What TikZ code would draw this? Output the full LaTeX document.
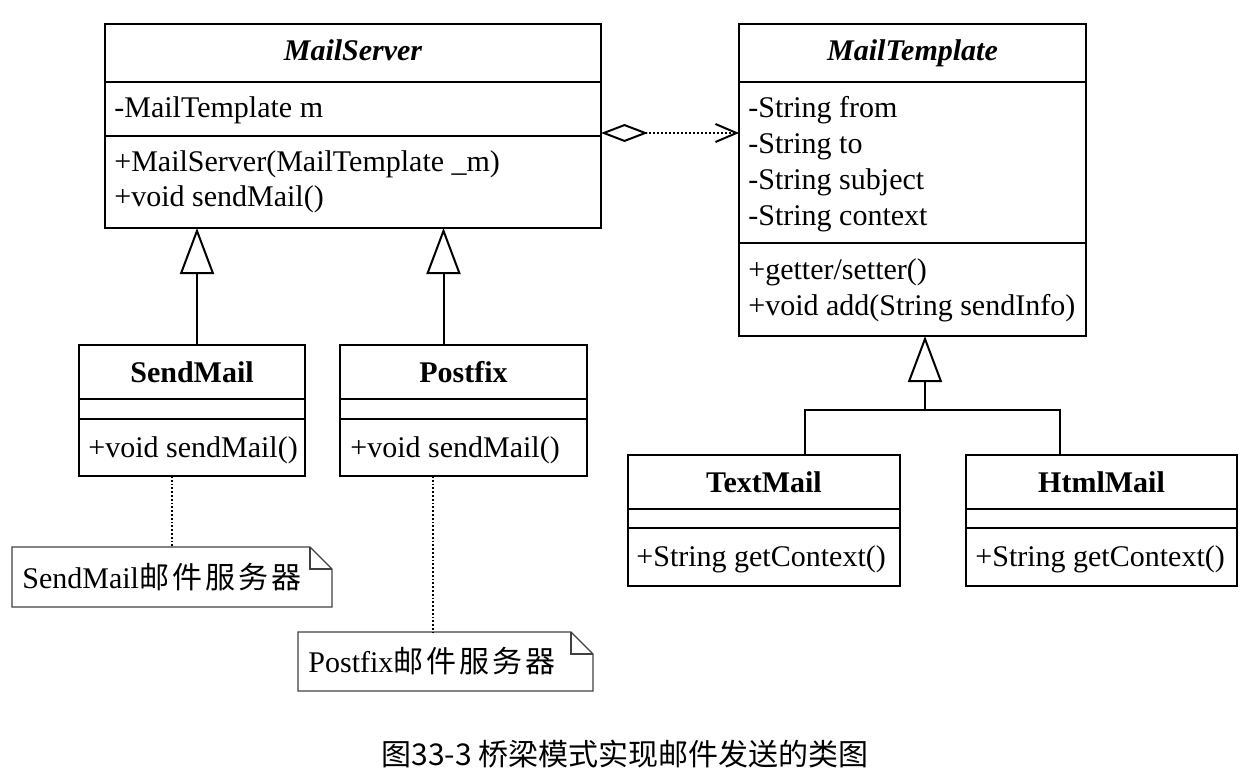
\documentclass[tikz,border=0pt]{standalone}
\usepackage{fontspec}
\setmainfont{Liberation Serif}
\newfontfamily\cjk{Noto Sans CJK SC}
\newfontfamily\cjknote[LetterSpace=10]{Noto Sans CJK SC}
\usetikzlibrary{arrows.meta,calc}
\begin{document}
\begin{tikzpicture}[x=0.5pt,y=-0.5pt,
  box/.style={draw, line width=1.1pt, rectangle, inner sep=0pt, outer sep=0pt},
  ttl/.style={anchor=base, inner sep=0pt, font=\fontsize{15}{18}\selectfont\bfseries},
  ittl/.style={ttl, font=\fontsize{15}{18}\selectfont\bfseries\itshape},
  mem/.style={anchor=base west, inner sep=0pt, font=\fontsize{15}{18}\selectfont},
  sepline/.style={line width=1.1pt},
  conn/.style={line width=1pt},
  gen/.style={conn, -{Triangle[open, length=23pt, width=17pt]}},
  agg/.style={conn, densely dotted, {Diamond[open,length=23.5pt,width=9pt]}-{Straight Barb[length=10.5pt,width=9pt]}},
  dotl/.style={line width=0.9pt, densely dotted},
  noteph/.style={rectangle, inner sep=0pt, outer sep=0pt},
  notel/.style={line width=0.7pt, draw=black!75},
  notetxt/.style={anchor=base west, inner sep=0pt, font=\fontsize{15}{18}\selectfont}
]
\useasboundingbox (0,0) rectangle (1249,776);

% ---------- MailServer ----------
\node[box, minimum width=248pt, minimum height=102pt] (ms) at (353,126) {};
\draw[sepline] ($(ms.north west)+(0,58)$) -- ($(ms.north east)+(0,58)$);
\draw[sepline] ($(ms.north west)+(0,112)$) -- ($(ms.north east)+(0,112)$);
\node[ittl] (mst) at (353,61) {MailServer};
\node[mem] (msa) at (114,117) {-MailTemplate m};
\node[mem] (msm1) at (114,171) {+MailServer(MailTemplate \_m)};
\node[mem] (msm2) at (114,206) {+void sendMail()};

% ---------- MailTemplate ----------
\node[box, minimum width=173.5pt, minimum height=156pt] (mt) at (912.5,180) {};
\draw[sepline] ($(mt.north west)+(0,58)$) -- ($(mt.north east)+(0,58)$);
\draw[sepline] ($(mt.north west)+(0,219)$) -- ($(mt.north east)+(0,219)$);
\node[ittl] (mtt) at (912.5,61) {MailTemplate};
\node[mem] (mta1) at (748,117) {-String from};
\node[mem] (mta2) at (748,153) {-String to};
\node[mem] (mta3) at (748,189) {-String subject};
\node[mem] (mta4) at (748,225) {-String context};
\node[mem] (mtm1) at (748,279) {+getter/setter()};
\node[mem] (mtm2) at (748,315) {+void add(String sendInfo)};

% ---------- SendMail ----------
\node[box, minimum width=113pt, minimum height=65.5pt] (sm) at (192,410.5) {};
\draw[sepline] ($(sm.north west)+(0,54)$) -- ($(sm.north east)+(0,54)$);
\draw[sepline] ($(sm.north west)+(0,74)$) -- ($(sm.north east)+(0,74)$);
\node[ttl] (smt) at (192,382) {SendMail};
\node[mem] (smm) at (88,457) {+void sendMail()};

% ---------- Postfix ----------
\node[box, minimum width=123.5pt, minimum height=65.5pt] (pf) at (463.5,410.5) {};
\draw[sepline] ($(pf.north west)+(0,54)$) -- ($(pf.north east)+(0,54)$);
\draw[sepline] ($(pf.north west)+(0,74)$) -- ($(pf.north east)+(0,74)$);
\node[ttl] (pft) at (463.5,382) {Postfix};
\node[mem] (pfm) at (350,457) {+void sendMail()};

% ---------- TextMail ----------
\node[box, minimum width=136pt, minimum height=65.5pt] (tm) at (764,520.5) {};
\draw[sepline] ($(tm.north west)+(0,54)$) -- ($(tm.north east)+(0,54)$);
\draw[sepline] ($(tm.north west)+(0,73)$) -- ($(tm.north east)+(0,73)$);
\node[ttl] (tmt) at (764,492) {TextMail};
\node[mem] (tmm) at (636,566) {+String getContext()};

% ---------- HtmlMail ----------
\node[box, minimum width=135.5pt, minimum height=65.5pt] (hm) at (1101.5,520.5) {};
\draw[sepline] ($(hm.north west)+(0,54)$) -- ($(hm.north east)+(0,54)$);
\draw[sepline] ($(hm.north west)+(0,73)$) -- ($(hm.north east)+(0,73)$);
\node[ttl] (hmt) at (1101.5,492) {HtmlMail};
\node[mem] (hmm) at (975,566) {+String getContext()};

% ---------- Notes ----------
\node[noteph, minimum width=160pt, minimum height=30pt] (n1) at (172,577) {};
\draw[notel] (n1.north west) -- ($(n1.north east)+(-22,0)$) -- ($(n1.north east)+(0,22)$) -- (n1.south east) -- (n1.south west) -- cycle;
\draw[notel] ($(n1.north east)+(-22,0)$) -- ($(n1.north east)+(-22,22)$) -- ($(n1.north east)+(0,22)$);
\node[notetxt] (n1t) at (22,588) {SendMail{\cjknote 邮件服务器}};

\node[noteph, minimum width=147.5pt, minimum height=29.5pt] (n2) at (445.5,661.5) {};
\draw[notel] (n2.north west) -- ($(n2.north east)+(-22,0)$) -- ($(n2.north east)+(0,22)$) -- (n2.south east) -- (n2.south west) -- cycle;
\draw[notel] ($(n2.north east)+(-22,0)$) -- ($(n2.north east)+(-22,22)$) -- ($(n2.north east)+(0,22)$);
\node[notetxt] (n2t) at (308,672) {Postfix{\cjknote 邮件服务器}};

% ---------- Connectors ----------
\draw[agg] ([yshift=-3.5pt]ms.east) -- ([yshift=-3.5pt]ms.east -| mt.west);
\draw[gen] ([xshift=2.5pt]sm.north) -- ([xshift=2.5pt]sm.north |- ms.south);
\draw[gen] ([xshift=-10pt]pf.north) -- ([xshift=-10pt]pf.north |- ms.south);
\coordinate (jn) at (925,410);
\draw[conn] ([xshift=20.5pt]tm.north) |- (jn) -| ([xshift=-20.75pt]hm.north);
\draw[gen] (jn) -- (jn |- mt.south);
\draw[dotl] (n1.north |- sm.south) -- (n1.north);
\draw[dotl] ([xshift=-15.25pt]pf.south) -- ([xshift=-15.25pt]pf.south |- n2.north);

% ---------- Caption ----------
\node[anchor=base, inner sep=0pt, font=\cjk\fontsize{15}{18}\selectfont] (cap) at (625,765) {图33-3 桥梁模式实现邮件发送的类图};
\end{tikzpicture}
\end{document}
